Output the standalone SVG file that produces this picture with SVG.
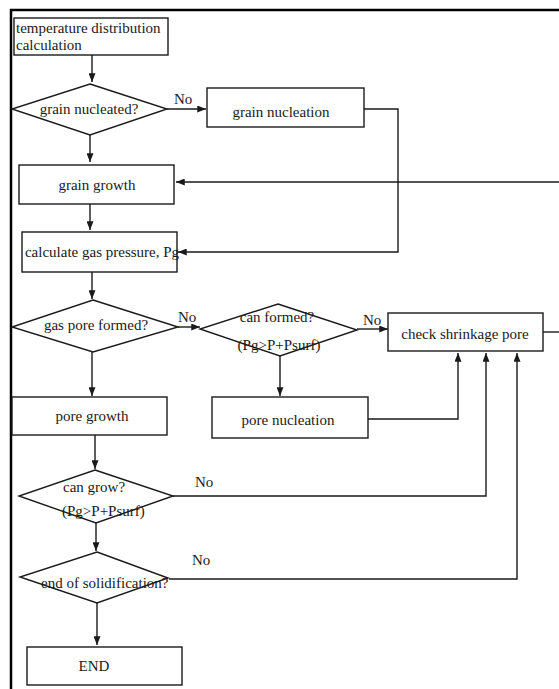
<svg xmlns="http://www.w3.org/2000/svg" width="559" height="689" viewBox="0 0 559 689">
<style>
.n{fill:#fff;stroke:#1a1a1a;stroke-width:1.4}
.t{font-family:"Liberation Serif","Times New Roman",serif;font-size:15px;fill:#1a1a1a}
.m{text-anchor:middle}
.c{fill:none;stroke:#1a1a1a;stroke-width:1.4}
</style>
<defs>
<marker id="a" viewBox="0 0 10 8" refX="10" refY="4" markerWidth="9" markerHeight="7" markerUnits="userSpaceOnUse" orient="auto">
<path d="M0,0L10,4L0,8z" fill="#1a1a1a"/>
</marker>
</defs>
<rect width="559" height="689" fill="#fff"/>
<path d="M559,10H11V689" fill="none" stroke="#000" stroke-width="2.5"/>
<g id="connectors">
<path class="c" d="M92,55V82" marker-end="url(#a)"/>
<path class="c" d="M167,109H206" marker-end="url(#a)"/>
<path class="c" d="M90,135V162" marker-end="url(#a)"/>
<path class="c" d="M559,182H176" marker-end="url(#a)"/>
<path class="c" d="M90,204V230" marker-end="url(#a)"/>
<path class="c" d="M364,109H398V252H178" marker-end="url(#a)"/>
<path class="c" d="M92,272V299" marker-end="url(#a)"/>
<path class="c" d="M178,327H200" marker-end="url(#a)"/>
<path class="c" d="M357,329H388" marker-end="url(#a)"/>
<path class="c" d="M543,332H559"/>
<path class="c" d="M280,356V396" marker-end="url(#a)"/>
<path class="c" d="M92,352V396" marker-end="url(#a)"/>
<path class="c" d="M368,419H458V353" marker-end="url(#a)"/>
<path class="c" d="M95,435V469" marker-end="url(#a)"/>
<path class="c" d="M173,496H486V353" marker-end="url(#a)"/>
<path class="c" d="M96,523V551" marker-end="url(#a)"/>
<path class="c" d="M169,579H517V353" marker-end="url(#a)"/>
<path class="c" d="M97,603V645" marker-end="url(#a)"/>
</g>
<g id="n1"><rect class="n" x="14" y="18" width="154" height="37"/><text class="t" x="16" y="33">temperature distribution</text><text class="t" x="16" y="50">calculation</text></g>
<g id="n2"><polygon class="n" points="90,84 167,109 90,135 12,109"/><text class="t m" x="89" y="114">grain nucleated?</text></g>
<text class="t" x="174" y="104">No</text>
<g id="n3"><rect class="n" x="207" y="88" width="157" height="39"/><text class="t m" x="281" y="117">grain nucleation</text></g>
<g id="n4"><rect class="n" x="19" y="165" width="155" height="39"/><text class="t m" x="97" y="190">grain growth</text></g>
<g id="n5"><rect class="n" x="22" y="232" width="155" height="40"/><text class="t m" x="102" y="257">calculate gas pressure, Pg</text></g>
<g id="n6"><polygon class="n" points="93,300 178,327 93,352 12,327"/><text class="t m" x="96" y="330">gas pore formed?</text></g>
<text class="t" x="178" y="322">No</text>
<g id="n7"><polygon class="n" points="278,304 357,330 280,356 200,329"/><text class="t m" x="277" y="322">can formed?</text><text class="t m" x="279" y="350">(Pg&gt;P+Psurf)</text></g>
<text class="t" x="363" y="325">No</text>
<g id="n8"><rect class="n" x="388" y="313" width="155" height="38"/><text class="t m" x="465" y="339">check shrinkage pore</text></g>
<g id="n9"><rect class="n" x="12" y="397" width="155" height="38"/><text class="t m" x="92" y="421">pore growth</text></g>
<g id="n10"><rect class="n" x="212" y="397" width="156" height="41"/><text class="t m" x="288" y="425">pore nucleation</text></g>
<g id="n11"><polygon class="n" points="95,470 173,496 96,523 19,496"/><text class="t" x="63" y="492">can grow?</text><text class="t" x="62" y="516">(Pg&gt;P+Psurf)</text></g>
<text class="t" x="195" y="487">No</text>
<g id="n12"><polygon class="n" points="97,552 168,578 97,603 20,577"/><text class="t" x="41" y="588">end of solidification?</text></g>
<text class="t" x="192" y="565">No</text>
<g id="n13"><rect class="n" x="27" y="647" width="155" height="38"/><text class="t m" x="94" y="671">END</text></g>
</svg>
